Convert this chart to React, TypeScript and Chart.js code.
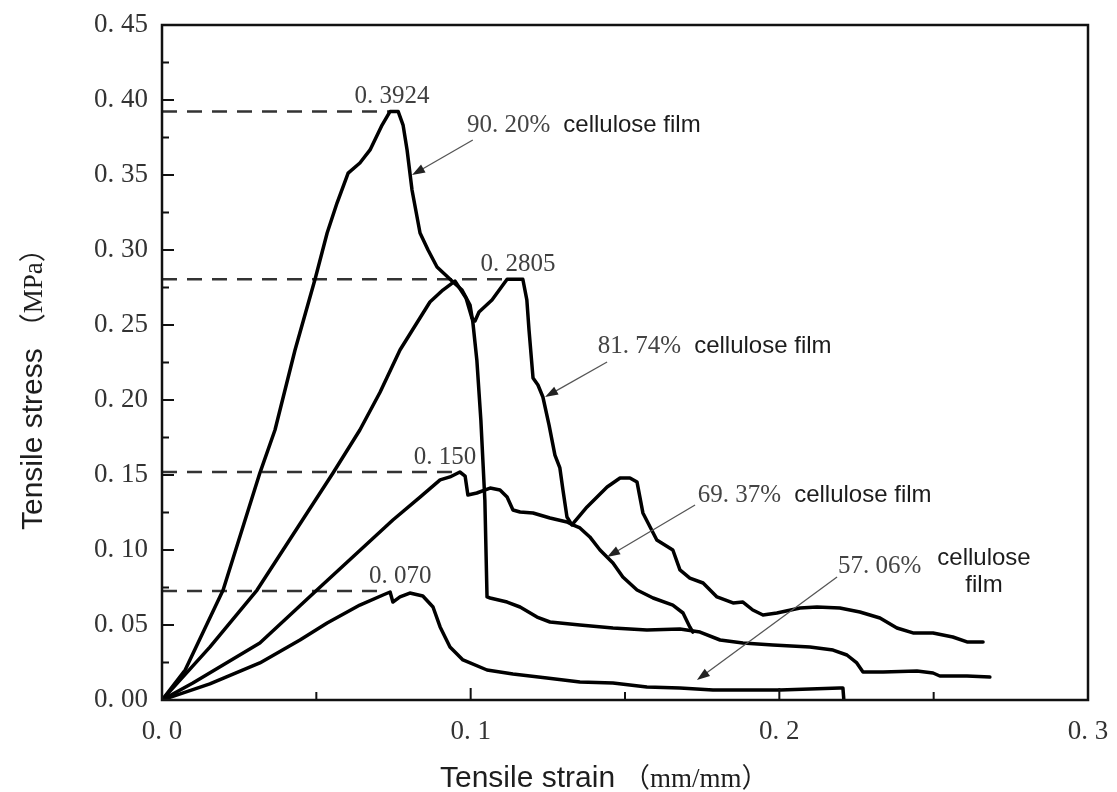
import { useEffect, useRef } from "react";
import { Chart, registerables } from "chart.js";

Chart.register(...registerables);

// ---------- data (strain mm/mm, stress MPa) ----------
const strain90 = [0, 0.0075, 0.0198, 0.0317, 0.0366, 0.0431, 0.0496, 0.0535, 0.0567, 0.0603, 0.0641, 0.0674, 0.0713, 0.0739, 0.0765, 0.0781, 0.0794, 0.081, 0.0836, 0.0862, 0.0891, 0.0943, 0.0972, 0.0998, 0.1007, 0.102, 0.1033, 0.1046, 0.1053, 0.1063, 0.1118, 0.116, 0.1215, 0.1257, 0.1354, 0.1461, 0.1571, 0.1678, 0.1743, 0.1808, 0.1882, 0.1979, 0.2099, 0.2174, 0.2219, 0.2251, 0.2271, 0.2336, 0.2446, 0.2498, 0.252, 0.2608, 0.2682];
const stress90 = [0, 0.02, 0.0733, 0.1513, 0.18, 0.2333, 0.2807, 0.3113, 0.3313, 0.3513, 0.358, 0.3667, 0.3833, 0.3924, 0.3924, 0.3833, 0.3667, 0.34, 0.3113, 0.3, 0.2887, 0.2787, 0.2733, 0.2633, 0.252, 0.2267, 0.1867, 0.1333, 0.0687, 0.068, 0.0653, 0.062, 0.0553, 0.052, 0.05, 0.048, 0.0467, 0.0473, 0.0453, 0.04, 0.038, 0.0367, 0.0353, 0.0333, 0.03, 0.0247, 0.0187, 0.0187, 0.0193, 0.018, 0.016, 0.016, 0.0153];

const strain81 = [0, 0.0155, 0.0308, 0.0554, 0.0641, 0.0706, 0.0771, 0.0868, 0.091, 0.0949, 0.0985, 0.1004, 0.1014, 0.1027, 0.1069, 0.1118, 0.1169, 0.1182, 0.1189, 0.1202, 0.1218, 0.1234, 0.1254, 0.1273, 0.1289, 0.1299, 0.1312, 0.1328, 0.1377, 0.1442, 0.1484, 0.1516, 0.1539, 0.1558, 0.1603, 0.1655, 0.1678, 0.171, 0.1753, 0.1798, 0.185, 0.1882, 0.1914, 0.1947, 0.1992, 0.2067, 0.2122, 0.2196, 0.2261, 0.2326, 0.2381, 0.2433, 0.2498, 0.2562, 0.2608, 0.266];
const stress81 = [0, 0.0353, 0.0733, 0.1513, 0.18, 0.205, 0.2333, 0.2653, 0.2733, 0.2793, 0.268, 0.2547, 0.2527, 0.2587, 0.2667, 0.2805, 0.2805, 0.2667, 0.2467, 0.2147, 0.21, 0.202, 0.1833, 0.1633, 0.1547, 0.14, 0.122, 0.1167, 0.1287, 0.142, 0.148, 0.148, 0.1453, 0.1247, 0.1067, 0.1, 0.0867, 0.0813, 0.078, 0.0687, 0.0647, 0.0653, 0.06, 0.0567, 0.058, 0.0613, 0.062, 0.0613, 0.0587, 0.0547, 0.048, 0.0447, 0.0447, 0.042, 0.0387, 0.0387];

const strain69 = [0, 0.01, 0.0317, 0.0502, 0.0748, 0.0836, 0.0901, 0.0933, 0.0965, 0.0982, 0.0991, 0.102, 0.1063, 0.1095, 0.1118, 0.1137, 0.116, 0.1202, 0.1257, 0.1312, 0.1331, 0.1354, 0.1386, 0.1419, 0.1461, 0.1493, 0.1539, 0.1591, 0.1655, 0.1688, 0.171, 0.172];
const stress69 = [0, 0.0113, 0.038, 0.0733, 0.12, 0.1353, 0.1467, 0.1487, 0.152, 0.1493, 0.1367, 0.138, 0.1413, 0.14, 0.1353, 0.1267, 0.1253, 0.1247, 0.1213, 0.1187, 0.1167, 0.1147, 0.1087, 0.1, 0.0913, 0.082, 0.0733, 0.068, 0.0633, 0.058, 0.0487, 0.0453];

const strain57 = [0, 0.0155, 0.0317, 0.0447, 0.0535, 0.0641, 0.0716, 0.0739, 0.0748, 0.0771, 0.0803, 0.0845, 0.0878, 0.0901, 0.0933, 0.0975, 0.1053, 0.1137, 0.1247, 0.1354, 0.1461, 0.1571, 0.1678, 0.1785, 0.2002, 0.2196, 0.2206, 0.2209];
const stress57 = [0, 0.0107, 0.0247, 0.04, 0.0513, 0.0633, 0.07, 0.072, 0.0653, 0.0687, 0.0713, 0.0693, 0.062, 0.0487, 0.0353, 0.0267, 0.02, 0.0173, 0.0147, 0.012, 0.0113, 0.0087, 0.008, 0.0067, 0.0067, 0.008, 0.008, 0];

// peak reference lines and their labels
const peakLabels = ["0. 3924", "0. 2805", "0. 150", "0. 070"];
const dashStress = [0.3924, 0.2805, 0.152, 0.0727];
const dashEndStrain = [0.074, 0.111, 0.0965, 0.0729];
const peakLabelStrain = [0.0745, 0.1153, 0.0917, 0.0772];

// series annotations
const seriesNames = ["90. 20%", "81. 74%", "69. 37%", "57. 06%"];
const seriesTails = [["cellulose film"], ["cellulose film"], ["cellulose film"], ["cellulose", "film"]];
const nameAnchorStrain = [0.0988, 0.1412, 0.1736, 0.219];
const nameAnchorStress = [0.3787, 0.2313, 0.132, 0.0847];
const arrowFromStrain = [0.1007, 0.1442, 0.1727, 0.2187];
const arrowFromStress = [0.3733, 0.2253, 0.13, 0.082];
const arrowToStrain = [0.081, 0.1241, 0.1442, 0.1733];
const arrowToStress = [0.35, 0.202, 0.0953, 0.0133];

const xTickLabels = ["0. 0", "0. 1", "0. 2", "0. 3"];
const yTickLabels = ["0. 00", "0. 05", "0. 10", "0. 15", "0. 20", "0. 25", "0. 30", "0. 35", "0. 40", "0. 45"];

const xTitle = "Tensile strain";
const xUnit = "（mm/mm）";
const yTitle = "Tensile stress";
const yUnit = "（MPa）";

const pts = (xs: number[], ys: number[]) => xs.map((x, i) => ({ x, y: ys[i] }));

const SERIF = "'Liberation Serif', 'Times New Roman', serif";
const SANS = "'Liberation Sans', Arial, sans-serif";
const UNIT_FONT = "'Liberation Serif', 'Noto Sans CJK SC', serif";

const annotPlugin = {
  id: "annot",
  afterDatasetsDraw(chart: any) {
    const { ctx, chartArea: a, scales } = chart;
    const xs = scales.x;
    const ys = scales.y;
    const X = (v: number) => xs.getPixelForValue(v);
    const Y = (v: number) => ys.getPixelForValue(v);
    ctx.save();

    // frame
    ctx.strokeStyle = "#111";
    ctx.lineWidth = 2.5;
    ctx.strokeRect(a.left, a.top, a.right - a.left, a.bottom - a.top);

    // inward ticks (major from the scale, minor halfway)
    ctx.lineWidth = 2;
    ctx.beginPath();
    const yv = ys.ticks.map((t: any) => t.value);
    yv.forEach((v: number, i: number) => {
      const p = Y(v);
      ctx.moveTo(a.left, p);
      ctx.lineTo(a.left + 12, p);
      if (i < yv.length - 1) {
        const m = Y((v + yv[i + 1]) / 2);
        ctx.moveTo(a.left, m);
        ctx.lineTo(a.left + 7, m);
      }
    });
    const xv = xs.ticks.map((t: any) => t.value);
    xv.forEach((v: number, i: number) => {
      const p = X(v);
      ctx.moveTo(p, a.bottom);
      ctx.lineTo(p, a.bottom - 12);
      if (i < xv.length - 1) {
        const m = X((v + xv[i + 1]) / 2);
        ctx.moveTo(m, a.bottom);
        ctx.lineTo(m, a.bottom - 8);
      }
    });
    ctx.stroke();

    // peak labels
    ctx.fillStyle = "#3f3f3f";
    ctx.font = `25px ${SERIF}`;
    ctx.textAlign = "center";
    ctx.textBaseline = "alphabetic";
    peakLabels.forEach((t, i) => {
      ctx.fillText(t, X(peakLabelStrain[i]), Y(dashStress[i]) - 8);
    });

    // series names and arrows
    ctx.textAlign = "left";
    seriesNames.forEach((name, i) => {
      const x0 = X(nameAnchorStrain[i]);
      const y0 = Y(nameAnchorStress[i]);
      ctx.font = `25px ${SERIF}`;
      ctx.fillStyle = "#444";
      ctx.fillText(name, x0, y0);
      const w = ctx.measureText(name).width;
      ctx.font = `24px ${SANS}`;
      ctx.fillStyle = "#1c1c1c";
      const tails = seriesTails[i];
      if (tails.length === 1) {
        ctx.fillText(tails[0], x0 + w + 13, y0);
      } else {
        const tx = x0 + w + 16;
        ctx.fillText(tails[0], tx, y0 - 8);
        const tw = ctx.measureText(tails[0]).width;
        ctx.textAlign = "center";
        ctx.fillText(tails[1], tx + tw / 2, y0 + 19);
        ctx.textAlign = "left";
      }

      const fx = X(arrowFromStrain[i]);
      const fy = Y(arrowFromStress[i]);
      const tx2 = X(arrowToStrain[i]);
      const ty2 = Y(arrowToStress[i]);
      const ang = Math.atan2(ty2 - fy, tx2 - fx);
      ctx.strokeStyle = "#555";
      ctx.lineWidth = 1.3;
      ctx.beginPath();
      ctx.moveTo(fx, fy);
      ctx.lineTo(tx2 - 8 * Math.cos(ang), ty2 - 8 * Math.sin(ang));
      ctx.stroke();
      ctx.fillStyle = "#222";
      ctx.beginPath();
      ctx.moveTo(tx2, ty2);
      ctx.lineTo(tx2 - 13 * Math.cos(ang) + 4.5 * Math.sin(ang), ty2 - 13 * Math.sin(ang) - 4.5 * Math.cos(ang));
      ctx.lineTo(tx2 - 13 * Math.cos(ang) - 4.5 * Math.sin(ang), ty2 - 13 * Math.sin(ang) + 4.5 * Math.cos(ang));
      ctx.closePath();
      ctx.fill();
    });

    // axis titles
    ctx.fillStyle = "#1e1e1e";
    ctx.textAlign = "left";
    ctx.textBaseline = "alphabetic";
    ctx.font = `30px ${SANS}`;
    const xw = ctx.measureText(xTitle).width;
    const xStart = 440;
    ctx.fillText(xTitle, xStart, 787);
    ctx.font = `27px ${UNIT_FONT}`;
    ctx.fillText(xUnit, xStart + xw + 8, 787);

    ctx.save();
    ctx.translate(42, 530);
    ctx.rotate(-Math.PI / 2);
    ctx.font = `30px ${SANS}`;
    const yw = ctx.measureText(yTitle).width;
    ctx.fillText(yTitle, 0, 0);
    ctx.font = `27px ${UNIT_FONT}`;
    ctx.fillText(yUnit, yw + 8, 0);
    ctx.restore();

    ctx.restore();
  },
};

export default function App() {
  const ref = useRef<HTMLCanvasElement | null>(null);
  useEffect(() => {
    if (!ref.current) return;
    const line = (data: any[]) => ({
      data,
      showLine: true,
      borderColor: "#000",
      borderWidth: 3.5,
      pointRadius: 0,
      tension: 0,
      borderJoinStyle: "round" as const,
      borderCapStyle: "round" as const,
      fill: false,
    });
    const dash = (i: number) => ({
      data: [
        { x: 0, y: dashStress[i] },
        { x: dashEndStrain[i], y: dashStress[i] },
      ],
      showLine: true,
      borderColor: "#333",
      borderWidth: 2.5,
      borderDash: [15, 10],
      pointRadius: 0,
      fill: false,
    });
    const chart = new Chart(ref.current, {
      type: "scatter",
      data: {
        datasets: [
          { label: "90.20% cellulose film", ...line(pts(strain90, stress90)) },
          { label: "81.74% cellulose film", ...line(pts(strain81, stress81)) },
          { label: "69.37% cellulose film", ...line(pts(strain69, stress69)) },
          { label: "57.06% cellulose film", ...line(pts(strain57, stress57)) },
          { label: "peak 1", ...dash(0) },
          { label: "peak 2", ...dash(1) },
          { label: "peak 3", ...dash(2) },
          { label: "peak 4", ...dash(3) },
        ] as any,
      },
      options: {
        responsive: false,
        animation: false,
        events: [],
        layout: { padding: { top: 25, right: 29, left: 0, bottom: 0 } },
        plugins: { legend: { display: false }, tooltip: { enabled: false } },
        scales: {
          x: {
            type: "linear",
            min: 0,
            max: 0.3,
            grid: { display: false, drawTicks: false, tickLength: 0 },
            border: { display: false },
            ticks: {
              stepSize: 0.1,
              padding: 16,
              color: "#333",
              font: { family: SERIF, size: 27 },
              callback: (v: any) => xTickLabels[Math.round(Number(v) / 0.1)] ?? "",
            },
            afterFit: (s: any) => {
              s.height = 92;
              s.paddingLeft = 0;
              s.paddingRight = 0;
            },
          },
          y: {
            type: "linear",
            min: 0,
            max: 0.45,
            grid: { display: false, drawTicks: false, tickLength: 0 },
            border: { display: false },
            ticks: {
              stepSize: 0.05,
              padding: 14,
              color: "#333",
              font: { family: SERIF, size: 27 },
              callback: (v: any) => yTickLabels[Math.round(Number(v) / 0.05)] ?? "",
            },
            afterFit: (s: any) => {
              s.width = 162;
              s.paddingTop = 0;
              s.paddingBottom = 0;
            },
          },
        },
      } as any,
      plugins: [annotPlugin],
    });
    return () => chart.destroy();
  }, []);
  return (
    <div style={{ position: "absolute", left: 0, top: 0, width: 1117, height: 792, background: "#fff" }}>
      <canvas ref={ref} width={1117} height={792} style={{ display: "block" }} />
    </div>
  );
}
